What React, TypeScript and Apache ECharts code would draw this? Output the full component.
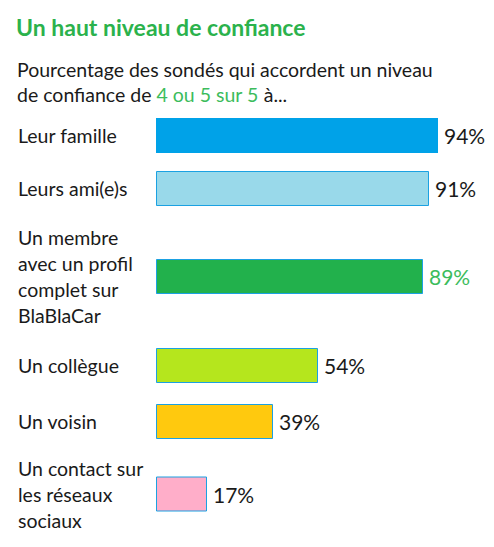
import React, { useEffect, useRef } from "react";
import * as echarts from "echarts";

const categories = [
  "Leur famille",
  "Leurs ami(e)s",
  "Un membre\navec un profil\ncomplet sur\nBlaBlaCar",
  "Un collègue",
  "Un voisin",
  "Un contact sur\nles réseaux\nsociaux",
];
const values = [94, 91, 89, 54, 39, 17];
const barColors = ["#00a2e8", "#99d9ea", "#22b14c", "#b5e61d", "#ffc90e", "#ffaec9"];
const labelColors = ["#1a1a1a", "#1a1a1a", "#3cbc5c", "#1a1a1a", "#1a1a1a", "#1a1a1a"];

// layout: vertical centre of each row (px)
const rowCenters = [135.5, 188.5, 276.5, 365.5, 421.5, 494];
const FONT = "Lato, 'Open Sans', sans-serif";

export default function App() {
  const ref = useRef<HTMLDivElement>(null);
  useEffect(() => {
    if (!ref.current) return;
    const chart = echarts.init(ref.current, null, { renderer: "svg" });
    const barH = 35;
    const grids = rowCenters.map((c) => ({
      left: 156,
      width: 300,
      top: c - barH / 2,
      height: barH,
      containLabel: false,
    }));
    const xAxes = rowCenters.map((_, i) => ({
      type: "value",
      gridIndex: i,
      min: 0,
      max: 100,
      show: false,
    }));
    const yAxes = categories.map((cat, i) => ({
      type: "category",
      gridIndex: i,
      data: [cat],
      axisLine: { show: false },
      axisTick: { show: false },
      splitLine: { show: false },
      axisLabel: {
        align: "left",
        margin: 138,
        color: "#1a1a1a",
        fontSize: 19.5,
        lineHeight: 26,
        fontFamily: FONT,
      },
    }));
    const series = values.map((v, i) => ({
      type: "bar",
      xAxisIndex: i,
      yAxisIndex: i,
      data: [v],
      barWidth: barH,
      itemStyle: {
        color: barColors[i],
        borderColor: "#1ba1e2",
        borderWidth: i === 0 ? 0 : 1,
      },
      label: {
        show: true,
        position: "right",
        distance: 6,
        formatter: "{c}%",
        color: labelColors[i],
        fontSize: 21,
        fontFamily: FONT,
      },
    }));
    chart.setOption({
      animation: false,
      backgroundColor: "#ffffff",
      title: [
        {
          text: "Un haut niveau de confiance",
          left: 11,
          top: 10,
          textStyle: { color: "#2bb24c", fontSize: 23, fontWeight: "bold", fontFamily: FONT },
        },
        {
          text:
            "{a|Pourcentage des sondés qui accordent un niveau}\n{a|de confiance de }{g|4 ou 5 sur 5}{a| à...}",
          left: 12,
          top: 52,
          textStyle: {
            fontWeight: "normal",
            rich: {
              a: { color: "#1a1a1a", fontSize: 19.5, lineHeight: 25, fontWeight: "normal", fontFamily: FONT },
              g: { color: "#3cbc5c", fontSize: 19.5, lineHeight: 25, fontWeight: "normal", fontFamily: FONT },
            },
          },
        },
      ],
      grid: grids,
      xAxis: xAxes,
      yAxis: yAxes,
      series,
    });
    return () => chart.dispose();
  }, []);
  return (
    <div
      ref={ref}
      style={{ position: "fixed", left: 0, top: 0, width: 494, height: 547 }}
    />
  );
}
